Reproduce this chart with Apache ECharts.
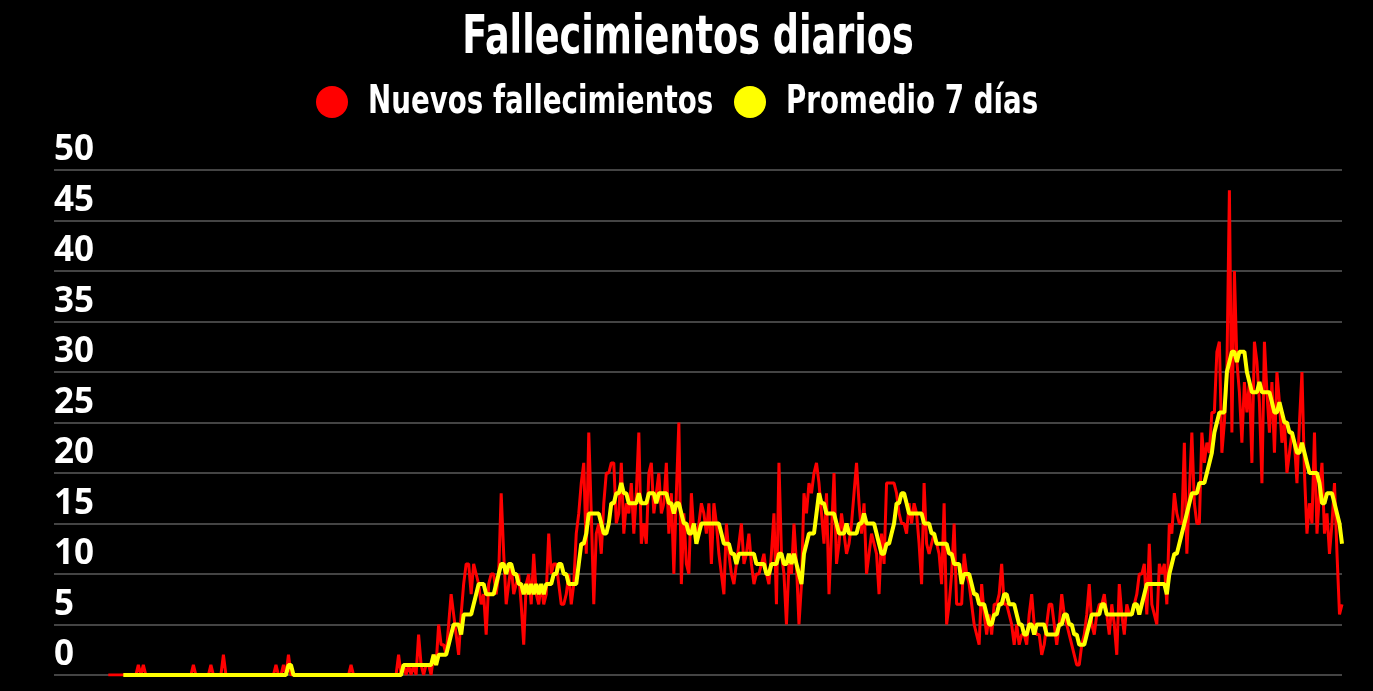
<!DOCTYPE html>
<html>
<head>
<meta charset="utf-8">
<script src="https://cdn.jsdelivr.net/npm/echarts@6/dist/echarts.min.js"></script>
<style>
html,body{margin:0;padding:0;background:#000;}
#chart{width:1373px;height:691px;}
</style>
</head>
<body>
<div id="chart"></div>
<script>
var titleText = 'Fallecimientos diarios';
var seriesNames = ['Nuevos fallecimientos', 'Promedio 7 días'];
var seriesColors = ['#ff0000', '#ffff00'];
var yTicks = [0, 5, 10, 15, 20, 25, 30, 35, 40, 45, 50];

// Daily new deaths (one value per day)
var nuevos = [
0,0,0,0,0,0,0,0,0,0, 0,0,1,0,1,0,0,0,0,0,
0,0,0,0,0,0,0,0,0,0, 0,0,0,0,1,0,0,0,0,0,
0,1,0,0,0,0,2,0,0,0, 0,0,0,0,0,0,0,0,0,0,
0,0,0,0,0,0,0,1,0,0, 1,0,2,0,0,0,0,0,0,0,
0,0,0,0,0,0,0,0,0,0, 0,0,0,0,0,0,0,1,0,0,
0,0,0,0,0,0,0,0,0,0, 0,0,0,0,0,0,2,0,1,0,
1,0,1,0,4,1,0,1,1,0, 2,1,5,3,3,2,5,8,6,4,
2,6,9,11,11,8,11,10,9,7, 8,4,9,10,10,8,10,18,12,7,
9,11,8,9,10,7,3,9,10,7, 12,8,7,9,7,8,14,10,11,11,
9,7,7,8,10,7,9,14,16,19, 21,12,24,16,7,14,15,12,17,20,
20,21,21,15,16,21,14,17,16,19, 14,18,24,13,15,13,20,21,16,18,
20,16,17,21,14,18,10,18,25,9, 16,11,10,18,14,14,15,17,16,14,
17,11,17,15,12,10,8,15,12,10, 9,11,13,15,11,12,14,11,9,10,
10,11,12,10,9,12,16,7,21,12, 10,5,11,10,15,11,5,9,18,16,
19,18,20,21,19,16,13,18,8,14, 20,11,13,16,14,12,13,15,18,21,
17,14,17,10,12,14,13,12,8,14, 11,19,19,19,19,18,16,15,15,14,
17,15,17,16,13,9,19,13,12,13, 14,13,12,9,17,5,7,10,15,7,
7,7,12,10,9,7,5,4,3,9, 6,4,6,4,7,7,8,11,7,7,
6,5,3,5,3,4,4,3,6,8, 5,4,4,2,3,5,7,7,5,3,
5,8,6,5,4,3,2,1,1,3, 4,6,9,5,4,6,7,7,8,6,
4,7,5,2,9,6,4,7,6,6, 7,8,10,10,11,6,13,7,6,5,
11,10,11,7,15,14,18,16,15,15, 23,12,18,24,17,15,15,24,21,23,
22,26,26,32,33,22,25,30,48,24, 40,31,28,23,29,26,29,21,33,31,
27,19,33,28,24,29,22,30,27,23, 25,20,22,24,23,19,25,30,20,14,
17,15,24,14,18,21,14,16,12,15, 19,12,6,7
];

// 7-day average as drawn (rounded), one value per day; first 6 days have none
var promedio = [
null,null,null,null,null,null,0,0,0,0, 0,0,0,0,0,0,0,0,0,0,
0,0,0,0,0,0,0,0,0,0, 0,0,0,0,0,0,0,0,0,0,
0,0,0,0,0,0,0,0,0,0, 0,0,0,0,0,0,0,0,0,0,
0,0,0,0,0,0,0,0,0,0, 0,0,1,1,0,0,0,0,0,0,
0,0,0,0,0,0,0,0,0,0, 0,0,0,0,0,0,0,0,0,0,
0,0,0,0,0,0,0,0,0,0, 0,0,0,0,0,0,0,0,1,1,
1,1,1,1,1,1,1,1,1,1, 2,1,2,2,2,2,3,4,5,5,
5,4,6,6,6,6,7,8,9,9, 9,8,8,8,8,9,10,11,11,10,
11,11,10,10,9,9,8,9,8,9, 8,9,8,9,8,9,9,9,10,10,
11,11,10,10,9,9,9,9,11,13, 13,14,16,16,16,16,16,15,14,14,
15,17,17,18,18,19,18,18,17,17, 17,17,18,17,17,17,18,18,18,17,
18,18,18,18,17,17,16,17,17,16, 15,15,14,14,15,13,14,15,15,15,
15,15,15,15,15,14,13,13,13,12, 12,11,12,12,12,12,12,12,12,11,
11,11,11,10,10,11,11,11,12,12, 11,11,12,11,12,11,10,9,12,13,
14,14,14,16,18,17,17,16,16,16, 16,15,14,14,14,15,14,14,14,14,
15,15,16,15,15,15,15,14,13,12, 12,13,13,14,15,17,17,18,18,17,
16,16,16,16,16,16,15,15,15,14, 14,13,13,13,13,13,12,12,11,11,
11,9,10,10,10,9,8,8,7,7, 7,6,5,5,6,6,7,7,8,8,
7,7,7,6,5,5,4,4,5,5, 4,5,5,5,5,4,4,4,4,4,
5,5,6,6,5,5,4,4,3,3, 3,4,5,6,6,6,6,7,7,6,
6,6,6,6,6,6,6,6,6,6, 7,7,6,7,8,9,9,9,9,9,
9,9,9,8,10,11,12,12,13,14, 15,16,17,18,18,18,19,19,19,20,
21,22,24,25,26,26,26,30,31,32, 32,31,32,32,32,30,29,28,28,28,
29,28,28,28,28,27,26,26,27,26, 25,25,24,24,23,22,22,23,22,21,
20,20,20,20,19,17,17,18,18,18, 17,16,15,13
];

var chart = echarts.init(document.getElementById('chart'), null, {renderer: 'canvas'});

function toPoints(arr) {
  return arr.map(function (v, i) { return [i, v]; });
}

var condFont = "'DejaVu Sans Condensed', 'Liberation Sans Narrow', sans-serif";

function textEl(txt, x, y, size, scaleX, align) {
  return {
    type: 'text',
    x: x,
    y: y,
    scaleX: scaleX,
    scaleY: 1,
    silent: true,
    style: {
      text: txt,
      fill: '#ffffff',
      font: 'bold ' + size + 'px ' + condFont,
      align: align,
      textAlign: align,
      verticalAlign: 'middle',
      textVerticalAlign: 'middle'
    }
  };
}

chart.setOption({
  backgroundColor: '#000000',
  animation: false,
  legend: {show: false, data: seriesNames},
  graphic: [
    textEl(titleText, 688, 39, 54, 0.754, 'center'),
    {type: 'circle', shape: {cx: 332, cy: 102, r: 16}, style: {fill: seriesColors[0]}, silent: true},
    textEl(seriesNames[0], 368, 103, 39, 0.79, 'left'),
    {type: 'circle', shape: {cx: 750, cy: 102, r: 16}, style: {fill: seriesColors[1]}, silent: true},
    textEl(seriesNames[1], 786, 103, 39, 0.79, 'left')
  ],
  grid: {
    left: 54,
    right: 31,
    top: 170,
    bottom: 16,
    containLabel: false
  },
  xAxis: {
    type: 'value',
    min: -21.7,
    max: nuevos.length - 1,
    show: false,
    splitLine: {show: false}
  },
  yAxis: {
    type: 'value',
    min: yTicks[0],
    max: yTicks[yTicks.length - 1],
    interval: 5,
    axisLine: {show: false},
    axisTick: {show: false},
    splitLine: {lineStyle: {color: '#444444', width: 2}},
    axisLabel: {
      inside: true,
      margin: 0,
      color: '#ffffff',
      fontFamily: "'Open Sans', 'Noto Sans', sans-serif",
      fontWeight: 'bold',
      fontSize: 35,
      verticalAlign: 'bottom',
      padding: [0, 0, 2, 0]
    }
  },
  series: [
    {
      name: seriesNames[0],
      type: 'line',
      data: toPoints(nuevos),
      showSymbol: false,
      symbol: 'circle',
      color: seriesColors[0],
      lineStyle: {color: seriesColors[0], width: 3},
      z: 2
    },
    {
      name: seriesNames[1],
      type: 'line',
      data: toPoints(promedio),
      showSymbol: false,
      symbol: 'circle',
      color: seriesColors[1],
      lineStyle: {color: seriesColors[1], width: 4},
      z: 3
    }
  ]
});
</script>
</body>
</html>
